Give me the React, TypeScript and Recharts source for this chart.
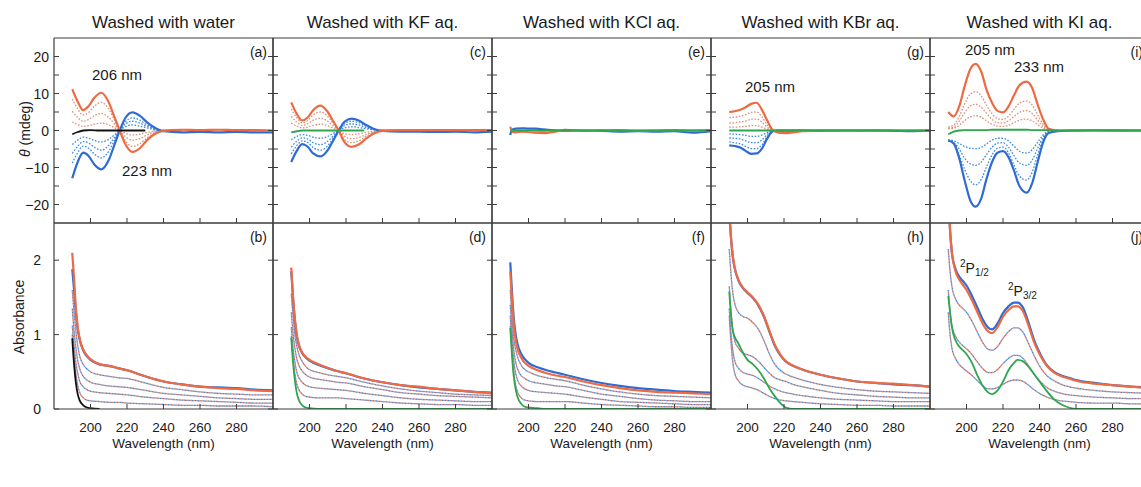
import React from "react";
import { LineChart, Line, XAxis, YAxis } from "recharts";

// ---------- categories / ticks ----------
const PANEL_TITLES = ["Washed with water", "Washed with KF aq.", "Washed with KCl aq.", "Washed with KBr aq.", "Washed with KI aq."];
const TOP_LETTERS = ["(a)", "(c)", "(e)", "(g)", "(i)"];
const BOTTOM_LETTERS = ["(b)", "(d)", "(f)", "(h)", "(j)"];
const WL_TICKS = [200, 220, 240, 260, 280];
const CD_TICKS = [-20, -15, -10, -5, 0, 5, 10, 15, 20];
const CD_LABELS = [-20, -10, 0, 10, 20];
const ABS_TICKS = [0, 1, 2];
const ABS_LABELS = [0, 1, 2];

// ---------- wavelength grids (nm) ----------
const WL_CD = [190, 193, 196, 199, 202, 206, 210, 213, 216, 219, 223, 227, 231, 235, 240, 250, 260, 270, 280, 290, 300];
const WL_BASE = [190, 193, 196, 200, 205, 210, 215, 220, 225, 230];
const WL_E = [190, 191, 193, 196, 200, 204, 208, 212, 216, 220, 230, 240, 250, 260, 270, 280, 290, 300];
const WL_G = [190, 193, 196, 199, 202, 205, 208, 211, 214, 217, 220, 225, 230, 240, 250, 260, 270, 280, 290, 300];
const WL_I = [190, 193, 196, 199, 202, 205, 208, 211, 214, 217, 220, 223, 226, 229, 233, 236, 239, 242, 245, 250, 260, 270, 280, 290, 300];
const WL_ABS = [190, 191, 192, 193, 194, 196, 198, 200, 205, 210, 215, 220, 230, 240, 250, 260, 270, 280, 290, 300];
const WL_H = [190, 191, 192, 193, 195, 197, 200, 203, 206, 209, 212, 215, 218, 221, 225, 230, 240, 250, 260, 270, 280, 290, 300];
const WL_J = [190, 191, 192, 194, 196, 198, 200, 203, 206, 209, 212, 214, 217, 220, 223, 226, 228, 231, 234, 237, 240, 244, 248, 252, 256, 260, 270, 280, 290, 300];

// ---------- (a) CD, water ----------
const A_RED = [11.2, 7.8, 5.5, 6.6, 8.8, 10.2, 7.6, 3.8, 0, -3.6, -5.8, -4.8, -2.6, -1.0, -0.1, 0.2, 0.1, 0.2, 0.1, 0.1, 0.0];
const A_BLUE = [-12.9, -8.5, -6.0, -6.9, -9.1, -10.5, -8.0, -4.0, 0, 3.3, 4.9, 4.0, 2.2, 0.8, -0.2, -0.5, -0.4, -0.5, -0.4, -0.5, -0.5];
const A_RED_D1 = [8.5, 5.8, 4.2, 4.9, 6.5, 7.6, 5.8, 2.9, 0, -2.7, -4.3, -3.6, -2.0, -0.7, 0, 0.1];
const A_RED_D2 = [5.2, 3.5, 2.5, 3.0, 4.0, 4.6, 3.5, 1.8, 0, -1.6, -2.6, -2.2, -1.2, -0.4, 0, 0];
const A_RED_D3 = [2.3, 1.6, 1.1, 1.3, 1.7, 2.0, 1.5, 0.8, 0, -0.7, -1.2, -1.0, -0.5, -0.2, 0, 0];
const A_BLUE_D1 = [-3.8, -2.6, -1.8, -2.1, -2.7, -3.1, -2.4, -1.2, 0, 1.0, 1.5, 1.2, 0.7, 0.2, 0, 0];
const A_BLUE_D2 = [-6.2, -4.3, -3.0, -3.4, -4.5, -5.3, -4.0, -2.0, 0, 1.7, 2.5, 2.0, 1.1, 0.4, 0, 0];
const A_BLUE_D3 = [-8.8, -6.0, -4.2, -4.8, -6.3, -7.4, -5.6, -2.8, 0, 2.3, 3.4, 2.8, 1.5, 0.5, 0, 0];
const A_BLACK = [-1.0, -0.4, 0, 0.1, 0, 0, 0, 0, 0, 0];

// ---------- (c) CD, KF ----------
const C_RED = [7.6, 4.5, 2.7, 3.5, 5.5, 6.7, 5.0, 2.5, 0, -3.0, -4.4, -3.8, -2.2, -0.9, -0.1, 0.1, 0.1, 0.1, 0.1, 0.1, 0.1];
const C_BLUE = [-8.5, -5.5, -3.7, -4.4, -6.2, -7.0, -5.3, -2.7, 0, 2.3, 3.2, 2.7, 1.5, 0.5, -0.1, -0.3, -0.3, -0.4, -0.3, -0.5, -0.3];
const C_RED_D1 = [5.8, 3.5, 2.1, 2.7, 4.2, 5.0, 3.8, 1.9, 0, -2.3, -3.3, -2.8, -1.6, -0.6, 0, 0];
const C_RED_D2 = [3.8, 2.3, 1.4, 1.8, 2.8, 3.3, 2.5, 1.2, 0, -1.5, -2.2, -1.9, -1.1, -0.4, 0, 0];
const C_RED_D3 = [2.0, 1.2, 0.7, 0.9, 1.4, 1.7, 1.3, 0.6, 0, -0.8, -1.1, -0.9, -0.5, -0.2, 0, 0];
const C_BLUE_D1 = [-2.5, -1.6, -1.1, -1.3, -1.8, -2.1, -1.6, -0.8, 0, 0.7, 1.0, 0.8, 0.5, 0.2, 0, 0];
const C_BLUE_D2 = [-4.5, -2.9, -2.0, -2.3, -3.3, -3.8, -2.9, -1.5, 0, 1.3, 1.8, 1.5, 0.8, 0.3, 0, 0];
const C_BLUE_D3 = [-6.3, -4.1, -2.8, -3.2, -4.6, -5.3, -4.1, -2.1, 0, 1.8, 2.5, 2.1, 1.2, 0.4, 0, 0];
const C_GREEN = [-0.5, -0.2, 0, 0, 0, 0, 0, 0, 0, 0];

// ---------- (e) CD, KCl ----------
const E_RED = [1.0, -0.3, -0.5, -0.3, -0.4, -0.6, -0.7, -0.5, -0.2, 0, -0.1, 0, 0.1, -0.1, 0, 0.1, 0, 0.1];
const E_BLUE = [-1.2, 0.2, 0.5, 0.6, 0.5, 0.5, 0.3, 0.1, 0, -0.1, 0, -0.1, -0.3, -0.2, -0.3, -0.2, -0.6, -0.2];
const E_GREEN = [0, 0, 0, 0, 0.1, 0, -0.1, 0, 0, 0.2, 0, 0.1, 0, 0, 0, 0, 0, 0];

// ---------- (g) CD, KBr ----------
const G_RED = [5.0, 5.2, 5.6, 6.3, 7.2, 7.5, 5.5, 2.5, 0, -0.6, -0.7, -0.5, -0.2, -0.1, 0, 0, -0.1, 0, 0, 0];
const G_BLUE = [-4.0, -4.2, -4.6, -5.5, -6.3, -6.2, -4.8, -2.0, -0.2, 0, 0, 0, 0, 0, 0, 0, 0, -0.1, -0.2, 0];
const G_RED_D1 = [3.5, 3.6, 3.9, 4.3, 4.9, 5.0, 3.6, 1.4, 0, -0.4, -0.4, -0.3, 0];
const G_RED_D2 = [2.0, 2.1, 2.3, 2.6, 3.0, 3.1, 2.2, 0.8, 0, -0.3, -0.3, -0.2, 0];
const G_RED_D3 = [0.9, 0.9, 1.0, 1.1, 1.3, 1.3, 0.9, 0.3, 0, -0.1, -0.1, 0, 0];
const G_BLUE_D1 = [-0.9, -1.0, -1.1, -1.3, -1.6, -1.6, -1.2, -0.5, 0, 0, 0, 0, 0];
const G_BLUE_D2 = [-2.0, -2.1, -2.3, -2.8, -3.3, -3.3, -2.5, -1.0, 0, 0, 0, 0, 0];
const G_BLUE_D3 = [-3.1, -3.3, -3.6, -4.3, -4.9, -4.9, -3.8, -1.5, 0, 0, 0, 0, 0];
const G_GREEN = [0, 0, 0, 0, 0, 0, 0, 0, 0, 0, 0, 0, 0.1, 0, 0, 0, 0.1, 0, 0, 0];

// ---------- (i) CD, KI ----------
const I_RED = [5.0, 3.8, 6.5, 12.0, 16.5, 18.0, 16.0, 11.0, 7.5, 5.3, 4.9, 6.5, 9.5, 12.2, 13.2, 11.5, 7.0, 3.0, 0.5, 0, 0, 0, 0.1, 0, 0];
const I_BLUE = [-2.7, -3.5, -7.5, -13.5, -18.8, -20.6, -18.5, -13.0, -8.5, -6.0, -5.6, -7.2, -10.8, -15.0, -16.8, -14.2, -8.5, -3.2, -0.7, -0.2, 0, 0, 0, 0, 0];
const I_RED_D1 = [1.0, 1.5, 3.8, 7.2, 9.8, 10.5, 9.4, 6.8, 4.5, 3.2, 3.0, 3.9, 5.7, 7.4, 8.0, 6.9, 4.2, 1.7, 0.3, 0];
const I_RED_D2 = [0.7, 1.0, 2.5, 4.8, 6.6, 7.1, 6.3, 4.6, 3.0, 2.1, 2.0, 2.6, 3.8, 4.9, 5.4, 4.6, 2.8, 1.1, 0.2, 0];
const I_RED_D3 = [0.4, 0.6, 1.4, 2.7, 3.7, 4.0, 3.6, 2.6, 1.7, 1.2, 1.1, 1.4, 2.1, 2.8, 3.1, 2.6, 1.6, 0.6, 0.1, 0];
const I_BLUE_D1 = [-2.5, -2.8, -3.5, -4.3, -4.8, -4.9, -4.6, -3.6, -2.6, -2.1, -2.1, -2.8, -4.2, -5.6, -6.1, -5.2, -3.2, -1.2, -0.2, 0];
const I_BLUE_D2 = [-2.7, -3.2, -5.0, -7.5, -9.0, -9.4, -8.6, -6.5, -4.5, -3.4, -3.3, -4.5, -6.8, -8.8, -9.4, -8.0, -4.8, -1.8, -0.3, 0];
const I_BLUE_D3 = [-2.8, -3.4, -6.5, -10.5, -13.5, -14.7, -13.3, -9.8, -6.6, -4.8, -4.5, -6.0, -9.3, -12.3, -13.4, -11.2, -6.6, -2.5, -0.4, 0];
const I_GREEN = [-1.0, -0.3, 0, 0.1, 0.1, 0.1, 0.1, 0.1, 0.2, 0.2, 0.2, 0.2, 0.2, 0.2, 0.2, 0.1, 0.1, 0.1, 0.1, 0, 0, 0.1, 0, 0, 0];

// ---------- (b) absorbance, water ----------
const B_RED = [2.1, 1.75, 1.35, 1.1, 0.95, 0.8, 0.72, 0.67, 0.6, 0.58, 0.55, 0.52, 0.44, 0.37, 0.33, 0.3, 0.28, 0.27, 0.25, 0.24];
const B_BLUE = [1.88, 1.6, 1.3, 1.08, 0.94, 0.79, 0.71, 0.66, 0.6, 0.58, 0.55, 0.52, 0.44, 0.37, 0.33, 0.3, 0.29, 0.28, 0.26, 0.25];
const B_D1 = [1.6, 1.3, 1.05, 0.85, 0.72, 0.6, 0.54, 0.5, 0.46, 0.44, 0.42, 0.41, 0.35, 0.29, 0.26, 0.23, 0.21, 0.2, 0.19, 0.19];
const B_D2 = [1.35, 1.05, 0.82, 0.65, 0.55, 0.44, 0.39, 0.36, 0.33, 0.31, 0.3, 0.29, 0.25, 0.21, 0.19, 0.17, 0.15, 0.14, 0.13, 0.13];
const B_D3 = [1.12, 0.85, 0.62, 0.48, 0.38, 0.3, 0.26, 0.24, 0.22, 0.21, 0.2, 0.19, 0.16, 0.14, 0.12, 0.11, 0.1, 0.09, 0.08, 0.08];
const B_D4 = [1.0, 0.7, 0.47, 0.32, 0.23, 0.15, 0.12, 0.11, 0.1, 0.09, 0.09, 0.08, 0.07, 0.06, 0.05, 0.05, 0.04, 0.04, 0.04, 0.03];
const B_BLACK = [0.95, 0.6, 0.35, 0.2, 0.12, 0.05, 0.02, 0.01, 0];

// ---------- (d) absorbance, KF ----------
const D_RED = [1.9, 1.5, 1.2, 1.0, 0.88, 0.76, 0.7, 0.66, 0.6, 0.55, 0.51, 0.48, 0.41, 0.36, 0.32, 0.3, 0.27, 0.25, 0.23, 0.21];
const D_BLUE = [1.85, 1.48, 1.19, 0.99, 0.87, 0.75, 0.69, 0.65, 0.59, 0.55, 0.51, 0.48, 0.41, 0.36, 0.32, 0.29, 0.27, 0.25, 0.23, 0.22];
const D_D1 = [1.55, 1.25, 1.0, 0.85, 0.75, 0.64, 0.57, 0.53, 0.49, 0.46, 0.44, 0.42, 0.36, 0.31, 0.27, 0.24, 0.22, 0.2, 0.19, 0.18];
const D_D2 = [1.3, 1.02, 0.82, 0.68, 0.6, 0.51, 0.46, 0.43, 0.4, 0.38, 0.36, 0.35, 0.3, 0.26, 0.22, 0.2, 0.18, 0.17, 0.16, 0.15];
const D_D3 = [1.1, 0.82, 0.63, 0.5, 0.43, 0.36, 0.32, 0.3, 0.28, 0.27, 0.26, 0.25, 0.21, 0.18, 0.15, 0.13, 0.12, 0.11, 0.1, 0.1];
const D_D4 = [0.98, 0.68, 0.47, 0.34, 0.27, 0.2, 0.17, 0.16, 0.15, 0.15, 0.15, 0.14, 0.12, 0.1, 0.08, 0.07, 0.06, 0.06, 0.05, 0.05];
const D_GREEN = [0.96, 0.62, 0.38, 0.22, 0.13, 0.05, 0.02, 0.01, 0, 0, 0, 0, 0, 0, 0, 0, 0, 0, 0, 0];

// ---------- (f) absorbance, KCl ----------
const F_RED = [1.85, 1.45, 1.12, 0.93, 0.81, 0.69, 0.62, 0.58, 0.52, 0.48, 0.45, 0.43, 0.37, 0.32, 0.28, 0.25, 0.23, 0.22, 0.21, 0.2];
const F_BLUE = [1.97, 1.55, 1.2, 1.0, 0.87, 0.74, 0.67, 0.62, 0.56, 0.52, 0.49, 0.46, 0.4, 0.35, 0.31, 0.28, 0.26, 0.24, 0.23, 0.22];
const F_D1 = [1.6, 1.22, 0.95, 0.8, 0.7, 0.59, 0.53, 0.5, 0.45, 0.42, 0.4, 0.38, 0.32, 0.27, 0.23, 0.2, 0.18, 0.17, 0.16, 0.15];
const F_D2 = [1.4, 1.05, 0.78, 0.63, 0.54, 0.45, 0.41, 0.38, 0.35, 0.33, 0.31, 0.3, 0.25, 0.2, 0.17, 0.14, 0.12, 0.11, 0.1, 0.1];
const F_D3 = [1.25, 0.9, 0.63, 0.48, 0.39, 0.31, 0.27, 0.25, 0.23, 0.22, 0.21, 0.2, 0.16, 0.13, 0.1, 0.09, 0.08, 0.07, 0.06, 0.06];
const F_D4 = [1.12, 0.75, 0.48, 0.32, 0.23, 0.15, 0.12, 0.11, 0.1, 0.1, 0.1, 0.1, 0.08, 0.06, 0.05, 0.04, 0.03, 0.03, 0.02, 0.02];
const F_GREEN = [1.09, 0.7, 0.42, 0.26, 0.16, 0.07, 0.03, 0.02, 0.01, 0, 0, 0, 0, 0, 0, 0, 0, 0, 0, 0];

// ---------- (h) absorbance, KBr ----------
const H_RED = [2.7, 2.3, 2.05, 1.9, 1.74, 1.65, 1.57, 1.5, 1.4, 1.25, 1.05, 0.86, 0.73, 0.64, 0.58, 0.53, 0.46, 0.41, 0.37, 0.35, 0.34, 0.32, 0.3];
const H_BLUE = [2.65, 2.28, 2.03, 1.89, 1.73, 1.64, 1.56, 1.49, 1.39, 1.24, 1.04, 0.85, 0.72, 0.64, 0.58, 0.53, 0.46, 0.41, 0.37, 0.35, 0.33, 0.32, 0.3];
const H_D1 = [2.15, 1.8, 1.55, 1.42, 1.3, 1.25, 1.22, 1.16, 1.07, 0.92, 0.74, 0.6, 0.52, 0.47, 0.43, 0.39, 0.33, 0.29, 0.26, 0.24, 0.23, 0.22, 0.21];
const H_D2 = [1.65, 1.3, 1.05, 0.92, 0.82, 0.76, 0.73, 0.7, 0.64, 0.56, 0.48, 0.42, 0.39, 0.37, 0.33, 0.3, 0.25, 0.21, 0.19, 0.17, 0.16, 0.15, 0.15];
const H_D3 = [1.35, 1.0, 0.78, 0.65, 0.55, 0.5, 0.47, 0.45, 0.41, 0.36, 0.31, 0.27, 0.24, 0.22, 0.2, 0.18, 0.15, 0.13, 0.12, 0.11, 0.1, 0.1, 0.1];
const H_D4 = [1.25, 0.88, 0.62, 0.48, 0.38, 0.33, 0.3, 0.28, 0.25, 0.21, 0.17, 0.14, 0.12, 0.11, 0.1, 0.09, 0.07, 0.06, 0.05, 0.05, 0.04, 0.04, 0.04];
const H_GREEN = [1.58, 1.25, 1.05, 0.97, 0.88, 0.78, 0.66, 0.6, 0.52, 0.41, 0.28, 0.17, 0.08, 0.02, 0, 0, 0, 0, 0, 0, 0, 0, 0];

// ---------- (j) absorbance, KI ----------
const J_RED = [2.9, 2.4, 2.1, 1.85, 1.74, 1.67, 1.6, 1.46, 1.3, 1.14, 1.04, 1.02, 1.1, 1.24, 1.33, 1.38, 1.38, 1.31, 1.12, 0.9, 0.74, 0.58, 0.49, 0.44, 0.41, 0.38, 0.34, 0.32, 0.3, 0.28];
const J_BLUE = [2.9, 2.4, 2.1, 1.88, 1.78, 1.72, 1.66, 1.52, 1.36, 1.2, 1.09, 1.07, 1.15, 1.29, 1.38, 1.43, 1.43, 1.36, 1.16, 0.93, 0.76, 0.59, 0.5, 0.45, 0.42, 0.39, 0.35, 0.32, 0.3, 0.29];
const J_D1 = [2.15, 1.85, 1.65, 1.48, 1.4, 1.35, 1.3, 1.18, 1.03, 0.89, 0.8, 0.79, 0.84, 0.95, 1.04, 1.09, 1.09, 1.03, 0.88, 0.72, 0.58, 0.45, 0.38, 0.33, 0.3, 0.28, 0.25, 0.23, 0.22, 0.21];
const J_D2 = [1.6, 1.3, 1.12, 0.98, 0.9, 0.85, 0.81, 0.73, 0.63, 0.54, 0.49, 0.49, 0.53, 0.61, 0.68, 0.72, 0.72, 0.68, 0.58, 0.47, 0.38, 0.29, 0.24, 0.21, 0.19, 0.18, 0.16, 0.15, 0.14, 0.14];
const J_D3 = [1.3, 1.0, 0.82, 0.68, 0.6, 0.55, 0.51, 0.45, 0.38, 0.31, 0.27, 0.27, 0.29, 0.33, 0.37, 0.39, 0.39, 0.37, 0.32, 0.26, 0.21, 0.16, 0.13, 0.11, 0.1, 0.09, 0.08, 0.08, 0.07, 0.07];
const J_GREEN = [1.52, 1.3, 1.1, 0.92, 0.84, 0.79, 0.74, 0.62, 0.45, 0.31, 0.22, 0.2, 0.25, 0.37, 0.52, 0.62, 0.66, 0.64, 0.57, 0.47, 0.37, 0.24, 0.13, 0.06, 0.02, 0, 0, 0, 0, 0];

// ---------- styling ----------
const FONT = '"Liberation Sans", Arial, Helvetica, sans-serif';
const INK = "#1a1a1a";
const FRAME = "#3c3c3c";
const RED = "#ee6a42";
const BLUE = "#2f6bd2";
const RED_DOT = "#d8937c";
const RED_DOT_ABS = "#df7b6a";
const BLUE_DOT = "#3b8ae0";
const GREEN = "#2ea64d";
const BLACK = "#111111";
const TICK = 5;

const COLS = [54, 273, 492, 711, 930];
const PW = 219;
const TOP1 = 38;
const H1 = 185;
const TOP2 = 223;
const H2 = 186;

type Pt = { x: number; y: number };
type Series = { pts: Pt[]; color: string; width: number; dash?: string; off?: number };

const zip = (wl: number[], v: number[]): Pt[] => v.map((y, i) => ({ x: wl[i], y }));
const fmt = (v: number) => (v < 0 ? "\u2212" + Math.abs(v) : String(v));

const cdSeries = (wl: number[], redD: number[][], blueD: number[][], blue: number[], red: number[], baseWl: number[], base: number[], baseColor: string): Series[] => [
  ...redD.map((v) => ({ pts: zip(wl, v), color: RED_DOT, width: 1.3, dash: "1.6 1.6" })),
  ...blueD.map((v) => ({ pts: zip(wl, v), color: BLUE_DOT, width: 1.3, dash: "1.6 1.6" })),
  { pts: zip(wl, blue), color: BLUE, width: 2.2 },
  { pts: zip(wl, red), color: RED, width: 2.2 },
  { pts: zip(baseWl, base), color: baseColor, width: 1.8 },
];

const absSeries = (wl: number[], levels: number[][], blue: number[], red: number[], base: number[], baseColor: string): Series[] => [
  ...levels.flatMap((v) => [
    { pts: zip(wl, v), color: BLUE_DOT, width: 1.3, dash: "1.6 1.6" },
    { pts: zip(wl, v), color: RED_DOT_ABS, width: 1.3, dash: "1.6 1.6", off: 1.6 },
  ]),
  { pts: zip(wl, blue), color: BLUE, width: 2.2 },
  { pts: zip(wl, red), color: RED, width: 2.2 },
  { pts: zip(wl, base), color: baseColor, width: 1.8 },
];

const TOP_SERIES: Series[][] = [
  cdSeries(WL_CD, [A_RED_D1, A_RED_D2, A_RED_D3], [A_BLUE_D1, A_BLUE_D2, A_BLUE_D3], A_BLUE, A_RED, WL_BASE, A_BLACK, BLACK),
  cdSeries(WL_CD, [C_RED_D1, C_RED_D2, C_RED_D3], [C_BLUE_D1, C_BLUE_D2, C_BLUE_D3], C_BLUE, C_RED, WL_BASE, C_GREEN, GREEN),
  cdSeries(WL_E, [], [], E_BLUE, E_RED, WL_E, E_GREEN, GREEN),
  cdSeries(WL_G, [G_RED_D1, G_RED_D2, G_RED_D3], [G_BLUE_D1, G_BLUE_D2, G_BLUE_D3], G_BLUE, G_RED, WL_G, G_GREEN, GREEN),
  cdSeries(WL_I, [I_RED_D1, I_RED_D2, I_RED_D3], [I_BLUE_D1, I_BLUE_D2, I_BLUE_D3], I_BLUE, I_RED, WL_I, I_GREEN, GREEN),
];

const BOTTOM_SERIES: Series[][] = [
  absSeries(WL_ABS, [B_D1, B_D2, B_D3, B_D4], B_BLUE, B_RED, B_BLACK, BLACK),
  absSeries(WL_ABS, [D_D1, D_D2, D_D3, D_D4], D_BLUE, D_RED, D_GREEN, GREEN),
  absSeries(WL_ABS, [F_D1, F_D2, F_D3, F_D4], F_BLUE, F_RED, F_GREEN, GREEN),
  absSeries(WL_H, [H_D1, H_D2, H_D3, H_D4], H_BLUE, H_RED, H_GREEN, GREEN),
  absSeries(WL_J, [J_D1, J_D2, J_D3], J_BLUE, J_RED, J_GREEN, GREEN),
];

type PanelProps = {
  left: number;
  top: number;
  height: number;
  domain: [number, number];
  ticks: number[];
  labels: number[];
  showY: boolean;
  yGap: number;
  showX: boolean;
  series: Series[];
};

// axes get a 1px band that is taken back by a -1px margin, so the plot area fills the whole box
const AX = 1;

function Panel({ left, top, height, domain, ticks, labels, showY, yGap, showX, series }: PanelProps) {
  const xTick = (p: any) => (
    <g>
      <line x1={p.x} x2={p.x} y1={p.y} y2={p.y - TICK} stroke={FRAME} strokeWidth={1} />
      {showX ? (
        <text x={p.x} y={p.y + 23} textAnchor="middle" fontFamily={FONT} fontSize={13.5} fill={INK}>
          {p.payload.value}
        </text>
      ) : null}
    </g>
  );
  const yTickL = (p: any) => {
    const v = p.payload.value;
    return (
      <g>
        <line x1={p.x} x2={p.x + TICK} y1={p.y} y2={p.y} stroke={FRAME} strokeWidth={1} />
        {showY && labels.includes(v) ? (
          <text x={p.x - yGap} y={p.y + 5} textAnchor="end" fontFamily={FONT} fontSize={14} fill={INK}>
            {fmt(v)}
          </text>
        ) : null}
      </g>
    );
  };
  const yTickR = (p: any) => <line x1={p.x} x2={p.x - TICK} y1={p.y} y2={p.y} stroke={FRAME} strokeWidth={1} />;
  const axisLine = { stroke: FRAME, strokeWidth: 1.2 };
  return (
    <div style={{ position: "absolute", left, top, width: PW, height }}>
      <LineChart width={PW} height={height} margin={{ top: -AX, right: -AX, bottom: -AX, left: -AX }}>
        <XAxis xAxisId="b" type="number" dataKey="x" domain={[180, 300]} ticks={WL_TICKS} interval={0} allowDataOverflow height={AX} tickSize={0} tickMargin={0} tickLine={false} axisLine={axisLine} tick={xTick} />
        <XAxis xAxisId="t" orientation="top" type="number" dataKey="x" domain={[180, 300]} ticks={WL_TICKS} allowDataOverflow height={AX} tickSize={0} tickLine={false} tick={false} axisLine={axisLine} />
        <YAxis yAxisId="l" type="number" dataKey="y" domain={domain} ticks={ticks} interval={0} allowDataOverflow width={AX} tickSize={0} tickMargin={0} tickLine={false} axisLine={axisLine} tick={yTickL} />
        <YAxis yAxisId="r" orientation="right" type="number" dataKey="y" domain={domain} ticks={ticks} interval={0} allowDataOverflow width={AX} tickSize={0} tickMargin={0} tickLine={false} axisLine={axisLine} tick={yTickR} />
        {series.map((s, i) => (
          <Line
            key={i}
            xAxisId="b"
            yAxisId="l"
            data={s.pts}
            dataKey="y"
            type="monotone"
            stroke={s.color}
            strokeWidth={s.width}
            strokeDasharray={s.dash}
            strokeDashoffset={s.off}
            strokeLinejoin="round"
            dot={false}
            activeDot={false}
            isAnimationActive={false}
          />
        ))}
        <Line xAxisId="t" yAxisId="r" data={series[0].pts} dataKey="y" stroke="none" dot={false} activeDot={false} isAnimationActive={false} />
      </LineChart>
    </div>
  );
}

const txt = { fontFamily: FONT, fill: INK } as const;

export default function App() {
  return (
    <div style={{ position: "absolute", left: 0, top: 0, width: 1141, height: 487, overflow: "hidden", background: "#fff" }}>
      <style>{`.recharts-surface, .recharts-wrapper { overflow: visible !important; }`}</style>
      {COLS.map((left, i) => (
        <Panel key={"t" + i} left={left} top={TOP1} height={H1} domain={[-25, 25]} ticks={CD_TICKS} labels={CD_LABELS} showY={i === 0} yGap={5} showX={false} series={TOP_SERIES[i]} />
      ))}
      {COLS.map((left, i) => (
        <Panel key={"b" + i} left={left} top={TOP2} height={H2} domain={[0, 2.5]} ticks={ABS_TICKS} labels={ABS_LABELS} showY={i === 0} yGap={13} showX={true} series={BOTTOM_SERIES[i]} />
      ))}
      <svg width={1141} height={487} style={{ position: "absolute", left: 0, top: 0, pointerEvents: "none" }}>
        {PANEL_TITLES.map((t, i) => (
          <text key={t} x={COLS[i] + PW / 2} y={28} textAnchor="middle" fontSize={17} {...txt}>
            {t}
          </text>
        ))}
        {TOP_LETTERS.map((t, i) => (
          <text key={t} x={COLS[i] + PW - 6} y={TOP1 + 18.5} textAnchor="end" fontSize={14} {...txt}>
            {t}
          </text>
        ))}
        {BOTTOM_LETTERS.map((t, i) => (
          <text key={t} x={COLS[i] + PW - 6} y={TOP2 + 18.5} textAnchor="end" fontSize={14} {...txt}>
            {t}
          </text>
        ))}
        {COLS.map((l, i) => (
          <text key={"wl" + i} x={l + PW / 2} y={448} textAnchor="middle" fontSize={13.5} {...txt}>
            Wavelength (nm)
          </text>
        ))}
        <text transform="translate(30,129) rotate(-90)" textAnchor="middle" fontSize={14} {...txt}>
          <tspan fontStyle="italic">θ</tspan> (mdeg)
        </text>
        <text transform="translate(24,317) rotate(-90)" textAnchor="middle" fontSize={14} {...txt}>
          Absorbance
        </text>
        <text x={92} y={80} fontSize={15} {...txt}>206 nm</text>
        <text x={122} y={175.5} fontSize={15} {...txt}>223 nm</text>
        <text x={745} y={92} fontSize={15} {...txt}>205 nm</text>
        <text x={965} y={55} fontSize={15} {...txt}>205 nm</text>
        <text x={1014} y={72} fontSize={15} {...txt}>233 nm</text>
        <text x={960} y={273} fontSize={14} {...txt}>
          <tspan fontSize={10} dy={-6}>2</tspan>
          <tspan dy={6}>P</tspan>
          <tspan fontSize={10} dy={3}>1/2</tspan>
        </text>
        <text x={1008} y={296} fontSize={14} {...txt}>
          <tspan fontSize={10} dy={-6}>2</tspan>
          <tspan dy={6}>P</tspan>
          <tspan fontSize={10} dy={3}>3/2</tspan>
        </text>
      </svg>
    </div>
  );
}
